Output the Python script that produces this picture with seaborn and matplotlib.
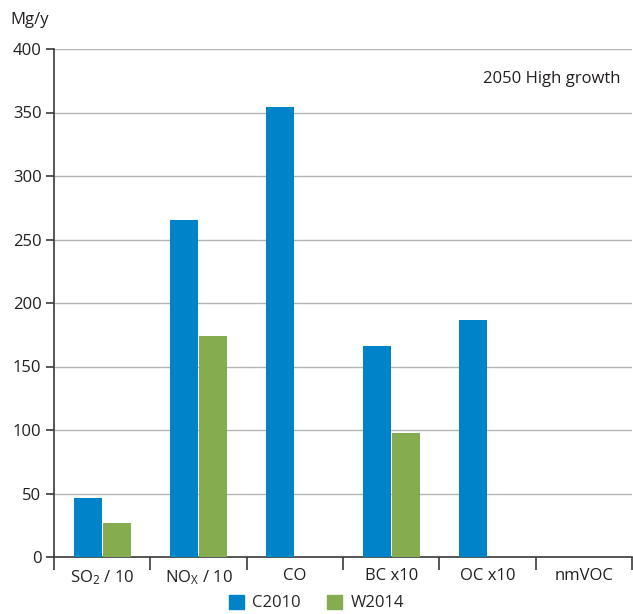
import matplotlib
matplotlib.use("Agg")
import matplotlib.pyplot as plt
from matplotlib.ticker import FixedLocator
import seaborn as sns
import pandas as pd
import numpy as np

categories = ["SO$_2$ / 10", "NO$_\\mathrm{X}$ / 10", "CO", "BC x10", "OC x10", "nmVOC"]
c2010 = [46.5, 265, 354, 166, 186.5, 0]
w2014 = [27, 174, 0, 98, 0, 0]
series = ["C2010", "W2014"]
colors = ["#0083C9", "#86AC50"]

df = pd.DataFrame({
    "category": categories * 2,
    "value": c2010 + w2014,
    "series": [series[0]] * len(categories) + [series[1]] * len(categories),
})

sns.set_theme(style="white")
plt.rcParams["font.family"] = ["Open Sans", "DejaVu Sans"]
plt.rcParams["mathtext.fontset"] = "custom"
plt.rcParams["mathtext.rm"] = "Open Sans"
plt.rcParams["mathtext.it"] = "Open Sans"

fig = plt.figure(figsize=(6.33, 6.14), dpi=100)
ax = fig.add_axes([54 / 633, 1 - 557 / 614, (632 - 54) / 633, (557 - 49) / 614])

sns.barplot(data=df, x="category", y="value", hue="series", palette=colors,
            saturation=1, width=0.6, gap=0.03, ax=ax, legend=False, zorder=3)
for p in ax.patches:
    p.set_linewidth(0)

ax.set_ylim(0, 400)
ax.set_xlim(-0.5, len(categories) - 0.5)
ax.set_yticks(np.arange(0, 401, 50))
ax.yaxis.grid(True, color="#b4b4b4", linewidth=1.0, zorder=0)
ax.set_axisbelow(True)

for s in ["top", "right"]:
    ax.spines[s].set_visible(False)
for s in ["left", "bottom"]:
    ax.spines[s].set_color("#3a3a3a")
    ax.spines[s].set_linewidth(1.2)

ax.set_xlabel("")
ax.set_ylabel("")
ax.tick_params(axis="y", left=True, direction="out", length=6, width=1.2, color="#3a3a3a",
               labelsize=12, labelcolor="#231f20", pad=3)
ax.tick_params(axis="x", which="major", bottom=True, length=0, labelsize=12,
               labelcolor="#231f20", pad=8)
ax.xaxis.set_minor_locator(FixedLocator(np.arange(-0.5, len(categories) + 0.5, 1)))
ax.tick_params(axis="x", which="minor", bottom=True, direction="out", length=9, width=1.2,
               color="#3a3a3a")

fig.text(10 / 633, 1 - 20 / 614, "Mg/y", fontsize=12, color="#231f20", va="center", ha="left")
ax.text(0.98, 0.94, "2050 High growth", transform=ax.transAxes, ha="right", va="center",
        fontsize=12, color="#231f20")

handles = [plt.Rectangle((0, 0), 1, 1, color=c) for c in colors]
fig.legend(handles, series, loc="center", bbox_to_anchor=(0.5, 1 - 603 / 614), ncol=2,
           frameon=False, fontsize=12, handlelength=0.9, handleheight=0.9,
           handletextpad=0.5, columnspacing=1.6, borderaxespad=0)

fig.savefig("out.png", dpi=100)
